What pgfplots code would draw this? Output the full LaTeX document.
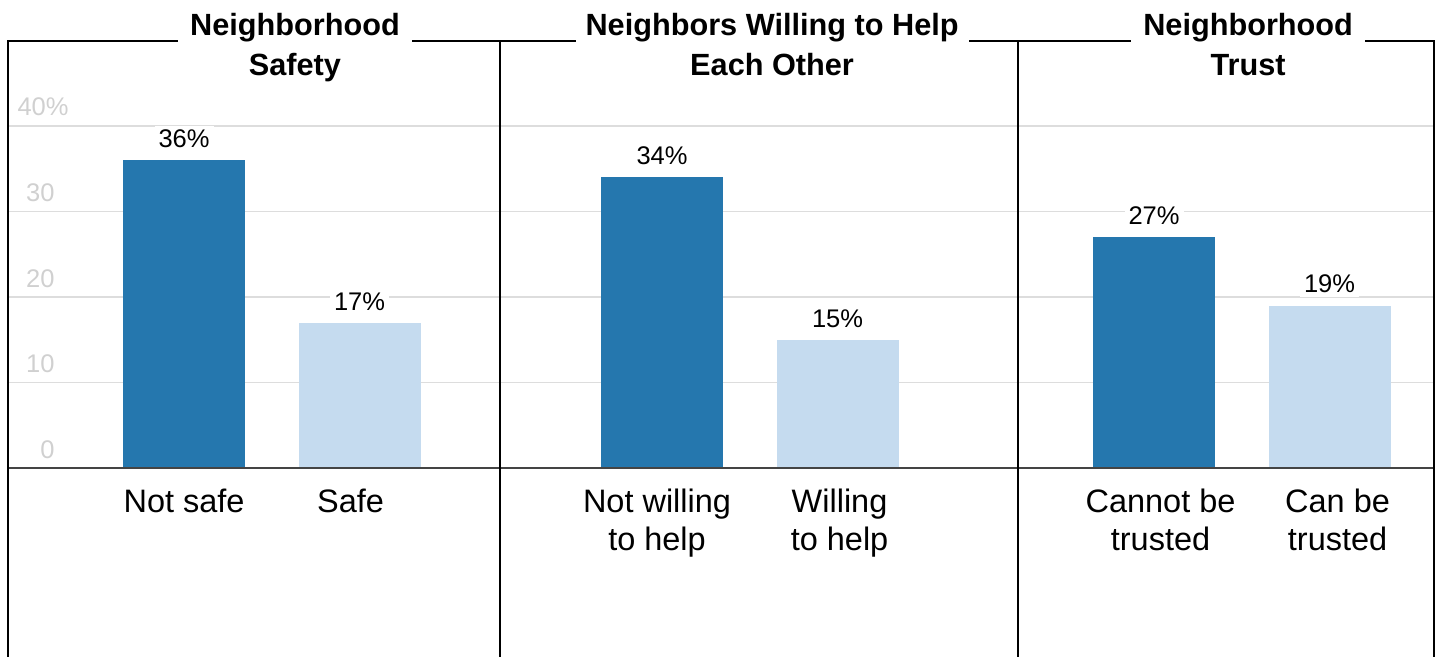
\documentclass[border=0pt]{standalone}
\usepackage{pgfplots}
\pgfplotsset{compat=1.18}
\usepackage{fontspec}
\setmainfont{Liberation Sans}
\definecolor{dblue}{HTML}{2577AE}
\definecolor{lblue}{HTML}{C5DBEF}
\definecolor{gridc}{HTML}{DDDDDD}
\definecolor{tickc}{HTML}{D0D0D0}
\definecolor{basec}{HTML}{444444}

\pgfplotsset{
 panel/.style={
  scale only axis, width=#1, height=308bp,
  ymin=-22.1, ymax=49.94,
  axis line style={draw=none},
  ytick={0,10,20,30,40}, ymajorgrids, grid style={gridc, line width=0.6bp},
  major tick length=0pt,
  xtick={0,1},
  xticklabel style={align=center, anchor=north, inner sep=0pt, yshift=84.4bp, font=\fontsize{16.3}{19.5}\selectfont},
  yticklabels={},
  clip=false,
  bar width=61bp,
  nodes near coords={\pgfmathprintnumber[assume math mode=true]{\pgfplotspointmeta}\%},
  every node near coord/.append style={font=\fontsize{12.8}{15}\selectfont, fill=white, inner sep=2bp, yshift=4bp, text=black},
 },
}
\tikzset{ttl/.style={anchor=base, font=\bfseries\fontsize{15.4}{19}\selectfont}}

\begin{document}
\begin{tikzpicture}
\useasboundingbox (0,0) rectangle (720bp,328.5bp);

% Panel 1
\begin{axis}[panel=246bp, at={(4bp,0)}, anchor=south west, xmin=-1.003, xmax=1.80,
 xticklabels={Not safe, \hspace*{-9bp}Safe},
 yticklabels={0,10,20,30,40\%\kern-7bp},
 yticklabel style={anchor=base east, inner sep=0pt, xshift=23.5bp, yshift=5bp, text=tickc, font=\fontsize{12.8}{15}\selectfont}]
\addplot[ybar, fill=dblue, draw=none, bar shift=0pt] coordinates {(0,36)};
\addplot[ybar, fill=lblue, draw=none, bar shift=0pt] coordinates {(1,17)};
\draw[basec, line width=1bp] ({rel axis cs:0,0}|-{axis cs:0,0}) -- ({rel axis cs:1,0}|-{axis cs:0,0});
\draw[black, line width=0.75bp] (rel axis cs:0,0) -- (rel axis cs:0,1) -- (rel axis cs:1,1) -- (rel axis cs:1,0);
\node[ttl, fill=white, inner xsep=6bp, inner ysep=2bp, yshift=3bp] at ({axis cs:0.632,0}|-{rel axis cs:0,1}) {Neighborhood};
\node[ttl, yshift=-17bp] at ({axis cs:0.632,0}|-{rel axis cs:0,1}) {Safety};
\end{axis}

% Panel 2
\begin{axis}[panel=259bp, at={(250bp,0)}, anchor=south west, xmin=-0.923, xmax=2.028,
 xticklabels={{\hspace*{-5bp}Not willing\\\hspace*{-5bp}to help},{\hspace*{2bp}Willing\\\hspace*{2bp}to help}}]
\addplot[ybar, fill=dblue, draw=none, bar shift=0pt] coordinates {(0,34)};
\addplot[ybar, fill=lblue, draw=none, bar shift=0pt] coordinates {(1,15)};
\draw[basec, line width=1bp] ({rel axis cs:0,0}|-{axis cs:0,0}) -- ({rel axis cs:1,0}|-{axis cs:0,0});
\draw[black, line width=0.75bp] (rel axis cs:0,0) -- (rel axis cs:0,1) -- (rel axis cs:1,1) -- (rel axis cs:1,0);
\node[ttl, fill=white, inner xsep=5bp, inner ysep=2bp, yshift=3bp] at ({axis cs:0.627,0}|-{rel axis cs:0,1}) {Neighbors Willing to Help};
\node[ttl, yshift=-17bp] at ({axis cs:0.627,0}|-{rel axis cs:0,1}) {Each Other};
\end{axis}

% Panel 3
\begin{axis}[panel=208bp, at={(509bp,0)}, anchor=south west, xmin=-0.775, xmax=1.595,
 xticklabels={{\hspace*{6.5bp}Cannot be\\\hspace*{6.5bp}trusted},{\hspace*{8bp}Can be\\\hspace*{8bp}trusted}}]
\addplot[ybar, fill=dblue, draw=none, bar shift=0pt] coordinates {(0,27)};
\addplot[ybar, fill=lblue, draw=none, bar shift=0pt] coordinates {(1,19)};
\draw[basec, line width=1bp] ({rel axis cs:0,0}|-{axis cs:0,0}) -- ({rel axis cs:1,0}|-{axis cs:0,0});
\draw[black, line width=0.75bp] (rel axis cs:0,0) -- (rel axis cs:0,1) -- (rel axis cs:1,1) -- (rel axis cs:1,0);
\node[ttl, fill=white, inner xsep=6bp, inner ysep=2bp, yshift=3bp] at ({axis cs:0.536,0}|-{rel axis cs:0,1}) {Neighborhood};
\node[ttl, yshift=-17bp] at ({axis cs:0.536,0}|-{rel axis cs:0,1}) {Trust};
\end{axis}
\end{tikzpicture}
\end{document}
